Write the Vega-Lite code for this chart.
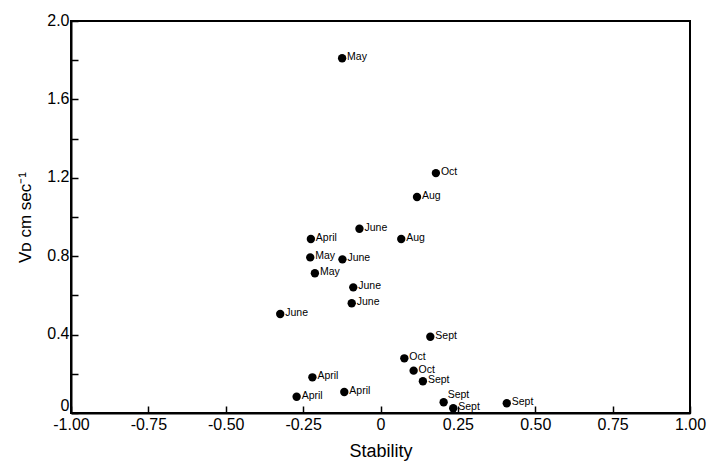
{
  "$schema": "https://vega.github.io/schema/vega-lite/v6.json",
  "width": 619,
  "height": 392,
  "autosize": {"type": "none"},
  "padding": {"left": 71, "top": 21, "right": 17, "bottom": 48},
  "background": "white",
  "config": {
    "view": {"stroke": "black", "strokeWidth": 2},
    "font": "Liberation Sans"
  },
  "data": {
    "values": [
      {"stability": -0.124, "vd": 1.81, "month": "May"},
      {"stability": 0.179, "vd": 1.224, "month": "Oct"},
      {"stability": 0.118, "vd": 1.102, "month": "Aug"},
      {"stability": -0.068, "vd": 0.94, "month": "June"},
      {"stability": -0.225, "vd": 0.888, "month": "April"},
      {"stability": 0.067, "vd": 0.888, "month": "Aug"},
      {"stability": -0.227, "vd": 0.794, "month": "May"},
      {"stability": -0.123, "vd": 0.784, "month": "June"},
      {"stability": -0.212, "vd": 0.713, "month": "May"},
      {"stability": -0.088, "vd": 0.641, "month": "June"},
      {"stability": -0.093, "vd": 0.56, "month": "June"},
      {"stability": -0.324, "vd": 0.505, "month": "June"},
      {"stability": 0.161, "vd": 0.389, "month": "Sept"},
      {"stability": 0.077, "vd": 0.279, "month": "Oct"},
      {"stability": 0.107, "vd": 0.216, "month": "Oct"},
      {"stability": 0.137, "vd": 0.162, "month": "Sept"},
      {"stability": -0.22, "vd": 0.182, "month": "April"},
      {"stability": -0.271, "vd": 0.083, "month": "April"},
      {"stability": -0.117, "vd": 0.107, "month": "April"},
      {"stability": 0.204, "vd": 0.055, "month": "Sept"},
      {"stability": 0.235, "vd": 0.024, "month": "Sept"},
      {"stability": 0.408, "vd": 0.05, "month": "Sept"}
    ]
  },
  "encoding": {
    "x": {
      "field": "stability",
      "type": "quantitative",
      "scale": {"domain": [-1, 1], "nice": false, "zero": false},
      "axis": {
        "title": "Stability",
        "titleFontSize": 18,
        "titleFontWeight": "normal",
        "titleColor": "black",
        "titlePadding": 10,
        "values": [-1, -0.75, -0.5, -0.25, 0, 0.25, 0.5, 0.75, 1],
        "labelExpr": "datum.value == 0 ? '0' : replace(format(datum.value, '.2f'), '\u2212', '-')",
        "labelFontSize": 16,
        "labelColor": "black",
        "labelPadding": 10,
        "labelFlush": false,
        "tickSize": -7,
        "tickColor": "black",
        "tickWidth": 1.5,
        "domainColor": "black",
        "domainWidth": 2,
        "grid": false
      }
    },
    "y": {
      "field": "vd",
      "type": "quantitative",
      "scale": {"domain": [0, 2], "nice": false},
      "axis": {
        "title": "Vᴅ cm sec⁻¹",
        "titleFontSize": 17,
        "titleFontWeight": "normal",
        "titleColor": "black",
        "titlePadding": 12,
        "values": [0, 0.2, 0.4, 0.6, 0.8, 1.0, 1.2, 1.4, 1.6, 1.8, 2.0],
        "labelExpr": "datum.value == 0 ? '0' : (round(datum.value * 10) % 4 == 0 ? format(datum.value, '.1f') : '')",
        "labelFontSize": 16,
        "labelColor": "black",
        "labelPadding": 9,
        "labelFlush": false,
        "labelBaseline": "middle",
        "labelOffset": {"condition": {"test": "datum.value == 0", "value": -8}, "value": -1},
        "tickSize": -7,
        "tickColor": "black",
        "tickWidth": 1.5,
        "domainColor": "black",
        "domainWidth": 2,
        "grid": false
      }
    }
  },
  "layer": [
    {
      "mark": {"type": "point", "filled": true, "color": "black", "size": 70, "opacity": 1}
    },
    {
      "transform": [{"filter": "!(datum.vd == 0.055 && datum.stability == 0.204)"}],
      "mark": {"type": "text", "align": "left", "baseline": "middle", "dx": 5, "dy": -1, "fontSize": 10.5, "color": "black"},
      "encoding": {"text": {"field": "month"}}
    },
    {
      "transform": [{"filter": "datum.vd == 0.055 && datum.stability == 0.204"}],
      "mark": {"type": "text", "align": "left", "baseline": "middle", "dx": 4, "dy": -7, "fontSize": 10.5, "color": "black"},
      "encoding": {"text": {"field": "month"}}
    }
  ]
}
